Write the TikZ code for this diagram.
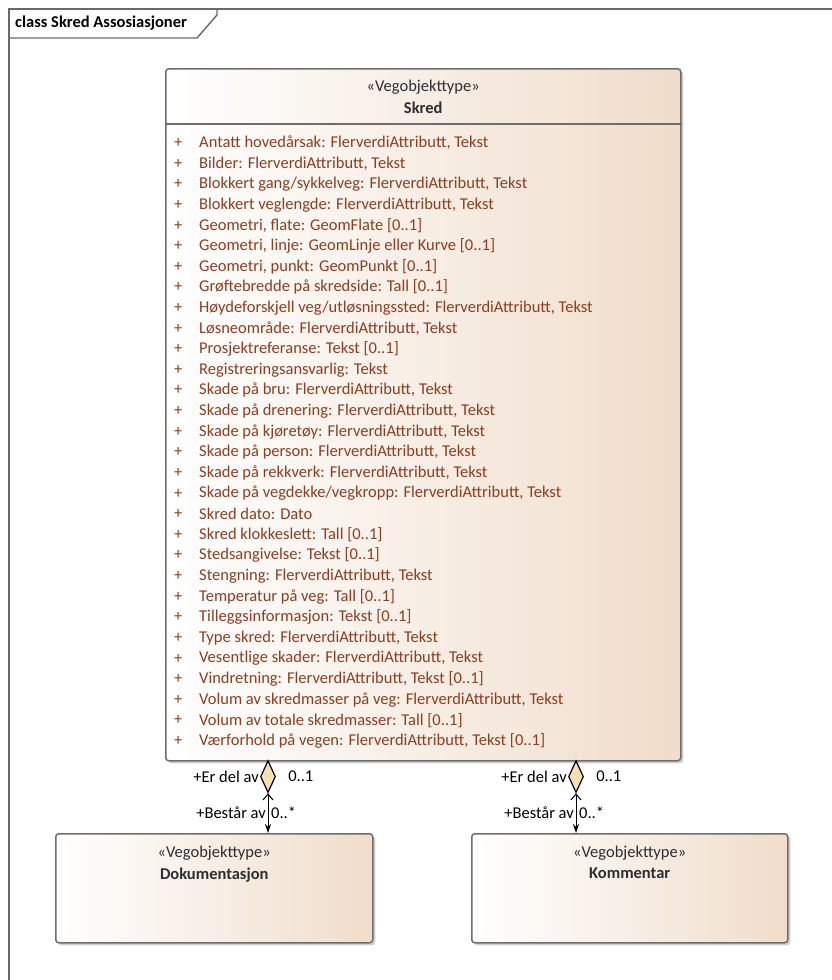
\documentclass[tikz,border=0pt]{standalone}
\usepackage{fontspec}
\setmainfont{Carlito}
\usetikzlibrary{calc, positioning, shapes.geometric, shadows, arrows.meta}
\definecolor{rammegraa}{RGB}{105,105,105}
\definecolor{kantgraa}{RGB}{110,110,110}
\definecolor{klassebrun}{RGB}{240,221,203}
\definecolor{attrbrun}{RGB}{140,62,32}
\definecolor{tekstgraa}{RGB}{45,45,50}
\definecolor{diamantgul}{RGB}{250,222,178}

\tikzset{
    klasse/.style={draw=kantgraa, line width=1.5pt, rounded corners=3pt, left color=white, right color=klassebrun, drop shadow={shadow xshift=2.5pt, shadow yshift=-2.5pt, fill=black!30, opacity=0.6}, anchor=north west, inner sep=0pt},
    stereo/.style={text=tekstgraa, font=\fontsize{16.5}{18}\selectfont, inner sep=0pt},
    navn/.style={text=tekstgraa, font=\fontsize{16.5}{18}\selectfont\bfseries, inner sep=0pt},
    attr/.style={text=attrbrun, font=\fontsize{16.5}{18}\selectfont, inner sep=0pt, anchor=west},
    diamant/.style={diamond, draw=black, line width=1.2pt, fill=diamantgul, inner sep=0pt, minimum width=15pt, minimum height=32pt, anchor=north},
    assoc/.style={draw=black, line width=1pt, {Straight Barb[length=6pt, width=10pt, line width=1pt]}-{Stealth[length=9pt, width=6pt]}},
    rolle/.style={text=black, font=\fontsize{16.5}{18}\selectfont, inner sep=1pt}
}

\begin{document}
\begin{tikzpicture}[x=1pt, y=-1pt]
    \useasboundingbox (0,0) rectangle (831,980);

    % ramme
    \draw[rammegraa, line width=1.8pt] (9,990) -- (9,9) -- (840,9);
    \draw[rammegraa, line width=1.4pt] (9,38) -- (197,38) -- (217,15) -- (217,9);
    \node[anchor=west, inner sep=0pt, text=black, font=\fontsize{16.5}{18}\selectfont\bfseries] (tittel) at (15,23) {class Skred Assosiasjoner};

    % klasser
    \node[klasse, minimum width=515pt, minimum height=692pt] (skred) at (165,68) {};
    \draw[kantgraa, line width=1.3pt] (skred.west |- 0,124) -- (skred.east |- 0,124);
    \node[stereo] (skredstereo) at ($(skred.north)+(0,19)$) {«Vegobjekttype»};
    \node[navn, below=7pt of skredstereo] (skrednavn) {Skred};

    \foreach \a [count=\i from 0] in {
        {Antatt hovedårsak: FlerverdiAttributt, Tekst},
        {Bilder: FlerverdiAttributt, Tekst},
        {Blokkert gang/sykkelveg: FlerverdiAttributt, Tekst},
        {Blokkert veglengde: FlerverdiAttributt, Tekst},
        {Geometri, flate: GeomFlate [0..1]},
        {Geometri, linje: GeomLinje eller Kurve [0..1]},
        {Geometri, punkt: GeomPunkt [0..1]},
        {Grøftebredde på skredside: Tall [0..1]},
        {Høydeforskjell veg/utløsningssted: FlerverdiAttributt, Tekst},
        {Løsneområde: FlerverdiAttributt, Tekst},
        {Prosjektreferanse: Tekst [0..1]},
        {Registreringsansvarlig: Tekst},
        {Skade på bru: FlerverdiAttributt, Tekst},
        {Skade på drenering: FlerverdiAttributt, Tekst},
        {Skade på kjøretøy: FlerverdiAttributt, Tekst},
        {Skade på person: FlerverdiAttributt, Tekst},
        {Skade på rekkverk: FlerverdiAttributt, Tekst},
        {Skade på vegdekke/vegkropp: FlerverdiAttributt, Tekst},
        {Skred dato: Dato},
        {Skred klokkeslett: Tall [0..1]},
        {Stedsangivelse: Tekst [0..1]},
        {Stengning: FlerverdiAttributt, Tekst},
        {Temperatur på veg: Tall [0..1]},
        {Tilleggsinformasjon: Tekst [0..1]},
        {Type skred: FlerverdiAttributt, Tekst},
        {Vesentlige skader: FlerverdiAttributt, Tekst},
        {Vindretning: FlerverdiAttributt, Tekst [0..1]},
        {Volum av skredmasser på veg: FlerverdiAttributt, Tekst},
        {Volum av totale skredmasser: Tall [0..1]},
        {Værforhold på vegen: FlerverdiAttributt, Tekst [0..1]}} {
        \node[attr] (pluss\i) at (174, 143+\i*20.62) {+};
        \node[attr] (attr\i) at (199, 143+\i*20.62) {\a};
    }

    \node[klasse, minimum width=317pt, minimum height=109pt] (dok) at (55,833) {};
    \node[stereo] (dokstereo) at ($(dok.north)+(0,20)$) {«Vegobjekttype»};
    \node[navn, below=7pt of dokstereo] (doknavn) {Dokumentasjon};

    \node[klasse, minimum width=316pt, minimum height=109pt] (kom) at (471,833) {};
    \node[stereo] (komstereo) at ($(kom.north)+(0,20)$) {«Vegobjekttype»};
    \node[navn, below=7pt of komstereo] (komnavn) {Kommentar};

    % assosiasjoner
    \node[diamant] (d1) at (268,760) {};
    \node[diamant] (d2) at (576,760) {};
    \draw[assoc] (d1.south) -- (d1.south |- dok.north);
    \draw[assoc] (d2.south) -- (d2.south |- kom.north);

    \node[rolle, anchor=east] (d1del) at (d1.west) {+Er del av};
    \node[rolle, anchor=west] (d1en) at ($(d1.east)+(11,0)$) {0..1};
    \node[rolle, anchor=east] (d1best) at (267,813) {+Består av};
    \node[rolle, anchor=west] (d1mange) at (270,813) {0..*};

    \node[rolle, anchor=east] (d2del) at (d2.west) {+Er del av};
    \node[rolle, anchor=west] (d2en) at ($(d2.east)+(11,0)$) {0..1};
    \node[rolle, anchor=east] (d2best) at (575,813) {+Består av};
    \node[rolle, anchor=west] (d2mange) at (578,813) {0..*};
\end{tikzpicture}
\end{document}
